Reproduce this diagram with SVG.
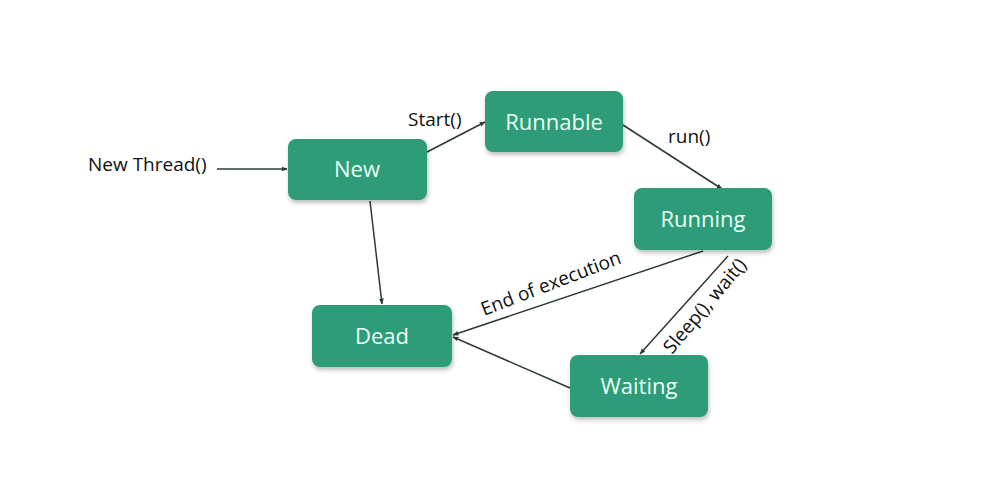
<svg xmlns="http://www.w3.org/2000/svg" width="982" height="483" viewBox="0 0 982 483">
<style>
.node rect{fill:#2e9c78;}
.node text{fill:#eafff6;font-family:"Open Sans","Liberation Sans",sans-serif;font-size:22px;text-anchor:middle;}
.lbl{fill:#111;font-family:"Open Sans","Liberation Sans",sans-serif;font-size:19px;}
.edge{stroke:#2c3a34;stroke-width:1.5;fill:none;marker-end:url(#ah);}
</style>
<defs>
<marker id="ah" viewBox="0 0 10 10" refX="9" refY="5" markerWidth="6" markerHeight="6" orient="auto" markerUnits="userSpaceOnUse">
<path d="M0,1 L10,5 L0,9 z" fill="#2c3a34"/>
</marker>
<filter id="sh" x="-10%" y="-10%" width="130%" height="140%">
<feDropShadow dx="1" dy="3" stdDeviation="2" flood-color="#000" flood-opacity="0.25"/>
</filter>
</defs>
<rect width="982" height="483" fill="#ffffff"/>
<g id="connectors">
<line class="edge" x1="217" y1="169" x2="287" y2="169"/>
<line class="edge" x1="427" y1="152" x2="485" y2="122"/>
<line class="edge" x1="623" y1="125" x2="722" y2="189"/>
<line class="edge" x1="370" y1="201" x2="382" y2="304"/>
<line class="edge" x1="703" y1="251" x2="453" y2="335"/>
<line class="edge" x1="728" y1="256" x2="640" y2="354"/>
<line class="edge" x1="570" y1="388" x2="453" y2="337"/>
<text class="lbl" x="88" y="171">New Thread()</text>
<text class="lbl" x="408" y="126">Start()</text>
<text class="lbl" x="668" y="143">run()</text>
<text class="lbl" x="0" y="0" transform="translate(484,316) rotate(-21)">End of execution</text>
<text class="lbl" x="0" y="0" transform="translate(672,355) rotate(-50)">Sleep(), wait()</text>
</g>
<g id="new" class="node"><rect x="288" y="139" width="139" height="61" rx="8" filter="url(#sh)"/><text x="357" y="177">New</text></g>
<g id="runnable" class="node"><rect x="485" y="91" width="138" height="61" rx="8" filter="url(#sh)"/><text x="554" y="130">Runnable</text></g>
<g id="running" class="node"><rect x="634" y="188" width="138" height="62" rx="8" filter="url(#sh)"/><text x="703" y="227">Running</text></g>
<g id="dead" class="node"><rect x="312" y="305" width="140" height="62" rx="8" filter="url(#sh)"/><text x="382" y="344">Dead</text></g>
<g id="waiting" class="node"><rect x="570" y="355" width="138" height="62" rx="8" filter="url(#sh)"/><text x="639" y="394">Waiting</text></g>
</svg>
